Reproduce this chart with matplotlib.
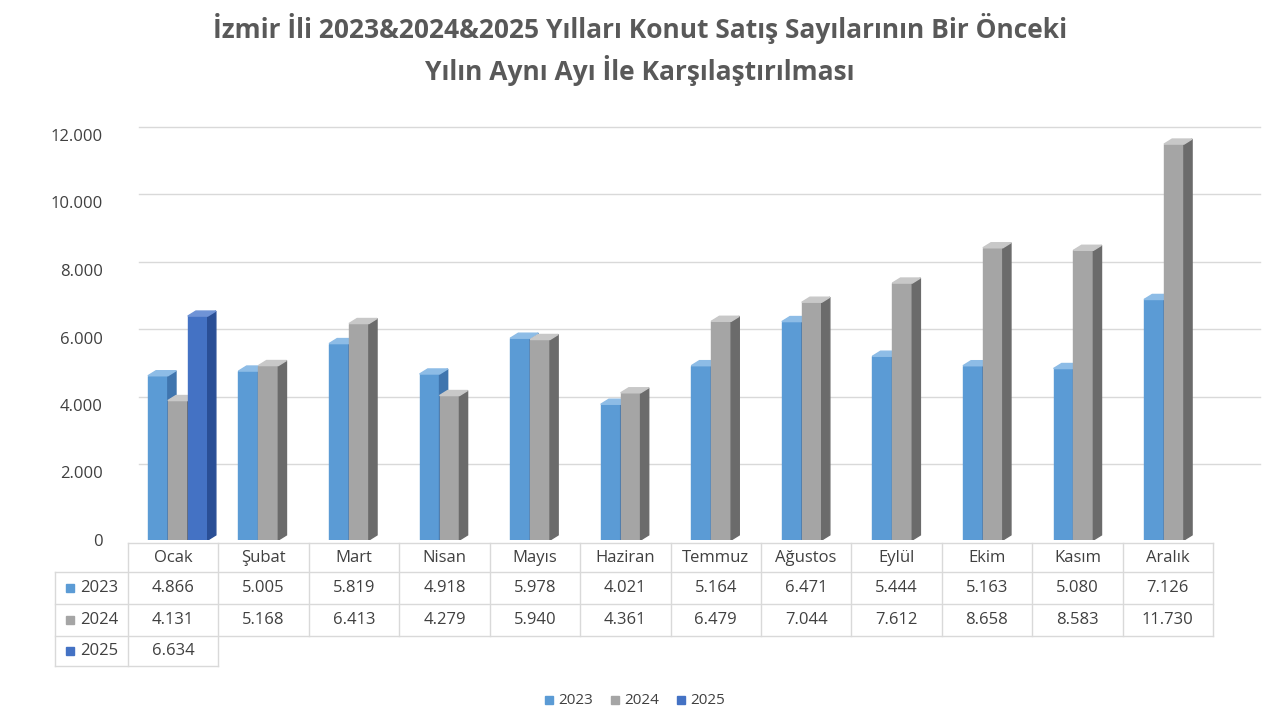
import matplotlib
matplotlib.use("Agg")
import matplotlib.pyplot as plt
from matplotlib.patches import Polygon, Rectangle
import numpy as np

plt.rcParams['font.family'] = ['Open Sans', 'DejaVu Sans']

months = ['Ocak', 'Şubat', 'Mart', 'Nisan', 'Mayıs', 'Haziran', 'Temmuz',
          'Ağustos', 'Eylül', 'Ekim', 'Kasım', 'Aralık']
v2023 = [4866, 5005, 5819, 4918, 5978, 4021, 5164, 6471, 5444, 5163, 5080, 7126]
v2024 = [4131, 5168, 6413, 4279, 5940, 4361, 6479, 7044, 7612, 8658, 8583, 11730]
v2025 = [6634]
series = [('2023', v2023, '#5B9BD5', '#3F75AE', '#8DBCE6'),
          ('2024', v2024, '#A5A5A5', '#6B6B6B', '#C8C8C8'),
          ('2025', v2025, '#4472C4', '#2A4F96', '#6F93D6')]

def fmt(v):
    return f'{v:,}'.replace(',', '.')

fig = plt.figure(figsize=(12.8, 7.2), dpi=100)
ax = fig.add_axes([0.1, 0.25, 0.849, 0.5625])
ax.set_xlim(0, 12)
ax.set_ylim(0, 12000)
ax.set_yticks(np.arange(0, 12001, 2000))
ax.set_yticklabels([fmt(int(t)) for t in np.arange(0, 12001, 2000)], fontsize=12, color='#404040')
ax.tick_params(length=0, pad=18)
ax.set_xticks([])
for s in ax.spines.values():
    s.set_visible(False)
for t in np.arange(2000, 12001, 2000):
    ax.plot([0.12, 12.5], [t + 250, t + 250], color='#D9D9D9', lw=1, clip_on=False, zorder=0)

w = 0.22
dx, dy = 0.09, 150
for i in range(12):
    for k, (name, vals, c, cs, ct) in enumerate(series):
        if i >= len(vals):
            continue
        x0 = i + 0.22 + k * w
        h = vals[i]
        ax.add_patch(Rectangle((x0, 0), w, h, color=c, zorder=3 + k))
        ax.add_patch(Polygon([(x0 + w, 0), (x0 + w + dx, dy), (x0 + w + dx, h + dy), (x0 + w, h)],
                             color=cs, zorder=3 + k))
        ax.add_patch(Polygon([(x0, h), (x0 + dx, h + dy), (x0 + w + dx, h + dy), (x0 + w, h)],
                             color=ct, zorder=3 + k))

# table in pixel coordinates
tx = fig.add_axes([0, 0, 1, 1], zorder=-1)
tx.set_xlim(0, 1280)
tx.set_ylim(720, 0)
tx.axis('off')
left, x1, right = 55, 128, 1213
colw = (right - x1) / 12
rows = [543, 572, 604, 636, 666]
lc = '#D9D9D9'
tx.plot([x1, right], [rows[0], rows[0]], color=lc, lw=1)
for y in rows[1:4]:
    tx.plot([left, right], [y, y], color=lc, lw=1)
tx.plot([left, x1 + colw], [rows[4], rows[4]], color=lc, lw=1)
tx.plot([left, left], [rows[1], rows[4]], color=lc, lw=1)
for j in range(13):
    xx = x1 + j * colw
    bottom = rows[4] if j <= 1 else rows[3]
    tx.plot([xx, xx], [rows[0], bottom], color=lc, lw=1)
for j, m in enumerate(months):
    tx.text(x1 + (j + 0.5) * colw, (rows[0] + rows[1]) / 2, m, ha='center', va='center',
            fontsize=12, color='#404040')
for r, (name, vals, c, cs, ct) in enumerate(series):
    yc = (rows[r + 1] + rows[r + 2]) / 2
    tx.add_patch(Rectangle((66, yc - 4), 8, 8, color=c))
    tx.text(80, yc, name, ha='left', va='center', fontsize=12, color='#404040')
    for j, v in enumerate(vals):
        tx.text(x1 + (j + 0.5) * colw, yc, fmt(v), ha='center', va='center',
                fontsize=12, color='#404040')

# legend
lx = 545
for name, vals, c, cs, ct in series:
    tx.add_patch(Rectangle((lx, 696), 8, 8, color=c))
    tx.text(lx + 13, 700, name, ha='left', va='center', fontsize=11, color='#404040')
    lx += 66

fig.text(0.5, 0.96, 'İzmir İli 2023&2024&2025 Yılları Konut Satış Sayılarının Bir Önceki',
         ha='center', va='center', fontsize=19, fontweight='bold', color='#595959')
fig.text(0.5, 0.902, 'Yılın Aynı Ayı İle Karşılaştırılması',
         ha='center', va='center', fontsize=19, fontweight='bold', color='#595959')

fig.savefig('out.png', dpi=100)
